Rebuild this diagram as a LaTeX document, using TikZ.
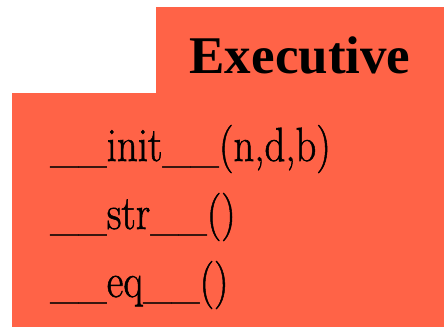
\documentclass[tikz,border=0pt]{standalone}
\usepackage{fontspec}
\newfontfamily\titlefont{Liberation Serif}
\newfontfamily\methodfont{Latin Modern Roman}[FakeBold=1.2]
\definecolor{tomato}{RGB}{255,99,71}
% method signatures are set in a horizontally condensed roman
\newcommand\methodtext[1]{\scalebox{0.85}[1]{#1}}
\begin{document}
\begin{tikzpicture}[x=1pt,y=1pt,
  panel/.style={fill=tomato,draw=none},
  classname/.style={anchor=base,inner sep=0pt,font=\titlefont\bfseries\fontsize{53}{60}\selectfont},
  method/.style={anchor=base west,inner sep=0pt,font=\methodfont\fontsize{48}{56}\selectfont}]
  \useasboundingbox (0,0) rectangle (444,-327);
  % package tab and body
  \path[panel] (156,-7) rectangle (444,-93);
  \path[panel] (12,-93) rectangle (444,-327);
  % class name
  \node[classname] (title) at (300,-73) {Executive};
  % methods
  \node[method] (m1) at (50,-161) {\methodtext{\_\_init\_\_(n,d,b)}};
  \node[method] (m2) at (50,-229) {\methodtext{\_\_str\_\_()}};
  \node[method] (m3) at (50,-297) {\methodtext{\_\_eq\_\_()}};
\end{tikzpicture}
\end{document}
